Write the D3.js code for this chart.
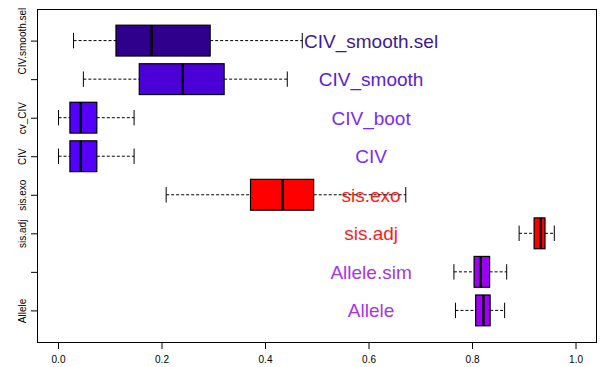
<!DOCTYPE html>
<html>
<head>
<meta charset="utf-8">
<script src="https://cdn.jsdelivr.net/npm/d3@7"></script>
<style>
  html, body { margin: 0; padding: 0; background: #fff; }
  svg { display: block; font-family: "Liberation Sans", Arial, sans-serif; }
</style>
</head>
<body>
<svg id="chart" width="600" height="367"></svg>
<script>
// Methods, bottom row first
const methods = ["Allele", "Allele.sim", "sis.adj", "sis.exo", "CIV", "CIV_boot", "CIV_smooth", "CIV_smooth.sel"];
// Axis tick labels (unlabelled ticks left blank)
const tickLabels = ["Allele", "", "sis.adj", "sis.exo", "CIV", "cv_CIV", "", "CIV.smooth.sel"];
// Five-number summaries
const whiskerLow  = [0.768, 0.765, 0.891, 0.209, 0.001, 0.001, 0.049, 0.030];
const q1          = [0.807, 0.804, 0.920, 0.372, 0.023, 0.023, 0.157, 0.112];
const median      = [0.822, 0.817, 0.933, 0.434, 0.044, 0.044, 0.241, 0.181];
const q3          = [0.835, 0.834, 0.941, 0.494, 0.075, 0.075, 0.321, 0.294];
const whiskerHigh = [0.863, 0.867, 0.959, 0.672, 0.147, 0.147, 0.443, 0.472];
const xTicks = [0, 0.2, 0.4, 0.6, 0.8, 1.0];
const labelX = 0.605;

const boxColors  = ["#9d00f2", "#9d00f2", "#ff0000", "#ff0000", "#5500ff", "#5500ff", "#4a00d6", "#2e008c"];
const textColors = ["#a833ee", "#a833ee", "#ff1a1a", "#ff1a1a", "#7a2aff", "#7a2aff", "#5a20d8", "#3a1a9a"];

const svg = d3.select("#chart");
const plotL = 37, plotR = 597, plotT = 9, plotB = 342;

const x = d3.scaleLinear().domain([-0.0406, 1.0415]).range([plotL, plotR]);
const y = d3.scaleLinear().domain([0.18, 8.82]).range([plotB, plotT]);

const rows = methods.map((m, i) => ({
  name: m, pos: i + 1,
  lo: whiskerLow[i], q1: q1[i], med: median[i], q3: q3[i], hi: whiskerHigh[i],
  fill: boxColors[i], tcol: textColors[i]
}));

// Method names
svg.append("g").selectAll("text").data(rows).join("text")
  .attr("x", x(labelX))
  .attr("y", d => y(d.pos) + 7)
  .attr("text-anchor", "middle")
  .attr("font-size", 19)
  .attr("fill", d => d.tcol)
  .text(d => d.name);

const half = 0.4;      // half box width in row units
const staple = 0.2;    // half staple length

const g = svg.append("g").selectAll("g").data(rows).join("g");

// Whiskers
g.append("line")
  .attr("x1", d => x(d.lo)).attr("x2", d => x(d.q1))
  .attr("y1", d => y(d.pos)).attr("y2", d => y(d.pos))
  .attr("stroke", "#000").attr("stroke-dasharray", "3,2");
g.append("line")
  .attr("x1", d => x(d.q3)).attr("x2", d => x(d.hi))
  .attr("y1", d => y(d.pos)).attr("y2", d => y(d.pos))
  .attr("stroke", "#000").attr("stroke-dasharray", "3,2");
// Staples
g.selectAll("line.staple").data(d => [d.lo, d.hi].map(v => ({ v, pos: d.pos }))).join("line")
  .attr("class", "staple")
  .attr("x1", d => x(d.v)).attr("x2", d => x(d.v))
  .attr("y1", d => y(d.pos - staple)).attr("y2", d => y(d.pos + staple))
  .attr("stroke", "#000");
// Boxes
g.append("rect")
  .attr("x", d => x(d.q1))
  .attr("width", d => x(d.q3) - x(d.q1))
  .attr("y", d => y(d.pos + half))
  .attr("height", d => y(d.pos - half) - y(d.pos + half))
  .attr("fill", d => d.fill)
  .attr("stroke", "#000").attr("stroke-width", 1.2);
// Medians
g.append("line")
  .attr("x1", d => x(d.med)).attr("x2", d => x(d.med))
  .attr("y1", d => y(d.pos + half)).attr("y2", d => y(d.pos - half))
  .attr("stroke", "#000").attr("stroke-width", 2.4);

// Frame
svg.append("rect")
  .attr("x", plotL + 0.5).attr("y", plotT + 0.5)
  .attr("width", plotR - plotL - 1).attr("height", plotB - plotT)
  .attr("fill", "none").attr("stroke", "#000");

// X axis
const xAxis = svg.append("g").attr("transform", `translate(0,${plotB + 1})`)
  .call(d3.axisBottom(x).tickValues(xTicks).tickFormat(d3.format(".1f")).tickSize(6).tickPadding(7));
xAxis.select(".domain").remove();
xAxis.selectAll("text").attr("font-size", 10).attr("font-family", "Liberation Sans, Arial, sans-serif");

// Y axis with rotated labels
const yAxis = svg.append("g").attr("transform", `translate(${plotL},0)`)
  .call(d3.axisLeft(y).tickValues(d3.range(1, 9)).tickFormat((d, i) => tickLabels[i]).tickSize(6));
yAxis.select(".domain").remove();
yAxis.selectAll(".tick text")
  .attr("font-size", 10)
  .attr("font-family", "Liberation Sans, Arial, sans-serif")
  .attr("text-anchor", "middle")
  .attr("transform", "rotate(-90)")
  .attr("x", 0)
  .attr("y", -11.5)
  .attr("dy", 0);
</script>
</body>
</html>
